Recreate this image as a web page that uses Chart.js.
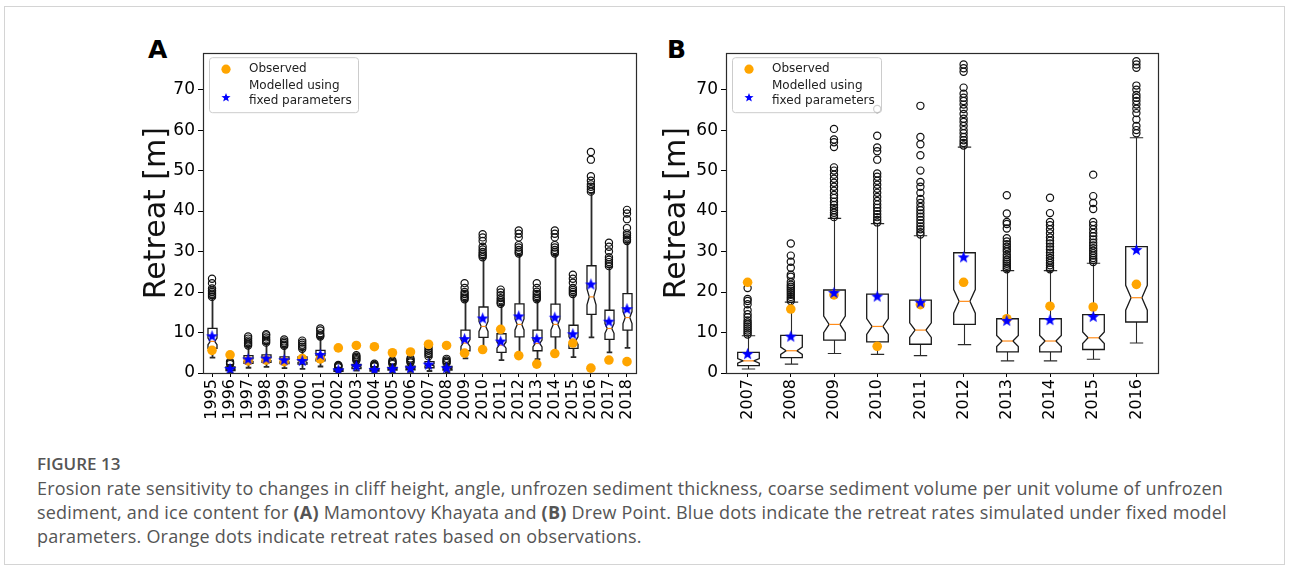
<!DOCTYPE html>
<html><head><meta charset="utf-8">
<script src="https://cdn.jsdelivr.net/npm/chart.js@4.4.1/dist/chart.umd.min.js"></script>
<style>
html,body{margin:0;padding:0;background:#fff;}
body{width:1290px;height:569px;position:relative;overflow:hidden;font-family:"DejaVu Sans",sans-serif;}
#frame{position:absolute;left:4px;top:6px;width:1281px;height:559px;border:1px solid #d4d4d4;box-sizing:border-box;}
.wrap{position:absolute;}
#wa{left:125px;top:40px;width:525px;height:392px;}
#wb{left:645px;top:40px;width:530px;height:392px;}
.plabel{position:absolute;font-weight:bold;font-size:25px;line-height:25px;font-family:"DejaVu Sans";color:#000;}
#cap{position:absolute;left:37px;top:452px;font-family:"Open Sans";color:#555;font-size:18px;line-height:24px;letter-spacing:0.2px;white-space:nowrap;}
#cap .fig{font-weight:600;font-size:17px;letter-spacing:0;}
#cap b{font-weight:700;}
</style></head>
<body>
<div id="frame"></div>
<div class="plabel" style="left:148px;top:37px;">A</div>
<div class="plabel" style="left:667px;top:37px;">B</div>
<div class="wrap" id="wa"><canvas id="ca"></canvas></div>
<div class="wrap" id="wb"><canvas id="cb"></canvas></div>
<div id="cap"><div class="fig">FIGURE 13</div>
<div>Erosion rate sensitivity to changes in cliff height, angle, unfrozen sediment thickness, coarse sediment volume per unit volume of unfrozen</div>
<div>sediment, and ice content for <b>(A)</b> Mamontovy Khayata and <b>(B)</b> Drew Point. Blue dots indicate the retreat rates simulated under fixed model</div>
<div>parameters. Orange dots indicate retreat rates based on observations.</div></div>
<script>
// ---------- Data: panel A (Mamontovy Khayata) ----------
const yearsA = ['1995','1996','1997','1998','1999','2000','2001','2002','2003','2004','2005','2006','2007','2008','2009','2010','2011','2012','2013','2014','2015','2016','2017','2018'];
const observedA = [5.6,4.5,3.0,3.2,2.8,3.6,3.5,6.2,6.8,6.5,5.0,5.2,7.1,6.8,4.9,5.8,10.8,4.3,2.2,4.8,7.4,1.2,3.2,2.8];
const modelledA = [9.2,1.1,3.5,3.7,3.3,3.1,4.6,0.8,1.8,0.9,1.1,1.3,2.2,1.3,8.5,13.6,7.9,14.1,8.5,13.8,9.7,22.0,12.8,15.9];
const whiskerLowA = [3.8,0.1,1.3,1.5,1.2,1.0,1.6,0.1,0.6,0.1,0.2,0.3,0.5,0.2,3.6,5.4,3.2,4.0,3.4,4.6,3.9,8.8,5.1,6.2];
const q1A = [6.1,0.6,2.4,2.6,2.3,2.2,3.0,0.4,1.1,0.5,0.7,0.8,1.3,0.7,5.5,8.8,5.1,8.9,5.5,8.9,6.1,14.5,8.3,10.6];
const medianA = [7.8,1.0,3.2,3.4,3.0,2.9,3.9,0.7,1.6,0.8,1.0,1.2,2.0,1.1,7.4,11.5,6.9,12.0,7.3,12.0,8.0,18.8,11.0,13.7];
const q3A = [11.0,1.5,4.3,4.5,4.0,4.0,5.6,1.0,2.1,1.1,1.4,1.7,2.8,1.6,10.6,16.3,9.7,17.1,10.6,17.0,11.8,26.5,15.5,19.6];
const whiskerHighA = [18.5,2.0,6.5,7.2,6.4,5.8,8.8,1.3,2.9,1.5,2.0,2.4,3.9,2.3,17.9,28.4,16.8,29.2,17.9,29.2,19.2,44.5,26.1,32.3];
const outliersA = [
  [18.8,19.2,19.6,20.0,20.4,20.9,22.2,23.3],
  [2.2,2.5,2.8],
  [6.8,7.2,7.6,8.0,8.5,9.0],
  [7.5,7.9,8.3,8.8,9.3,9.6],
  [6.7,7.0,7.4,7.8,8.3],
  [6.0,6.5,7.0,7.5,8.0],
  [9.0,9.3,9.8,10.5,11.0],
  [1.4,1.6,1.8,2.0],
  [3.1,3.4,3.7,4.0,4.4],
  [1.6,1.8,2.0,2.3],
  [2.2,2.5,2.8,3.1],
  [2.6,2.9,3.2,3.6],
  [4.1,4.6,5.0,5.5,6.0,6.6],
  [2.5,2.8,3.1,3.5],
  [18.2,18.6,19.0,19.5,20.0,21.0,22.2],
  [28.6,29.0,29.4,29.9,30.5,31.2,32.6,33.5,34.3],
  [17.1,17.5,18.0,18.5,19.2,19.9,20.6],
  [29.5,29.9,30.4,31.0,31.6,33.5,34.4,35.2],
  [18.2,18.6,19.0,19.5,20.1,21.0,22.2],
  [29.5,29.9,30.4,31.0,31.6,33.5,34.4,35.2],
  [19.5,20.0,20.5,21.0,22.3,23.3,24.3],
  [44.8,45.4,46.0,46.6,47.5,48.6,52.7,54.6],
  [26.4,26.9,27.4,28.0,28.6,30.0,31.2,32.2],
  [32.6,33.0,33.5,34.0,34.5,35.8,38.0,39.4,40.3]
];

// ---------- Data: panel B (Drew Point) ----------
const yearsB = ['2007','2008','2009','2010','2011','2012','2013','2014','2015','2016'];
const observedB = [22.4,15.8,19.3,6.6,16.9,22.4,13.4,16.5,16.3,21.9];
const modelledB = [4.8,9.1,19.9,19.0,17.5,28.7,13.0,13.2,14.0,30.5];
const whiskerLowB = [1.0,2.2,4.8,4.6,4.3,7.0,3.0,3.0,3.4,7.4];
const q1B = [1.8,3.8,8.1,7.7,7.1,12.0,5.2,5.2,5.8,12.6];
const medianB = [3.0,5.5,12.0,11.5,10.6,17.7,7.9,7.9,8.7,18.6];
const q3B = [5.1,9.3,20.5,19.5,18.0,29.7,13.4,13.4,14.4,31.2];
const whiskerHighB = [9.2,17.5,38.2,36.9,33.9,55.8,25.3,25.3,27.1,58.1];
const outliersB = [
  [9.5,10.0,10.5,11.0,11.5,12.0,12.5,13.0,13.8,14.5,15.5,17.0,17.8,18.3,21.0],
  [17.8,18.3,18.8,19.3,19.8,20.3,20.8,21.3,21.8,22.5,23.8,24.3,26.0,27.5,29.0,32.0],
  [38.5,39.0,39.6,40.2,40.8,41.5,42.3,43.2,44.0,45.0,46.0,47.0,48.0,49.0,50.0,50.8,55.8,57.0,57.7,60.3],
  [37.2,37.8,38.5,39.2,40.0,40.8,41.6,42.5,43.5,44.5,45.5,46.5,47.5,48.5,49.3,52.7,54.8,55.7,58.6,65.2],
  [34.2,34.8,35.5,36.2,37.0,37.8,38.6,39.4,40.2,41.0,42.0,43.0,44.5,46.0,47.2,50.0,53.8,56.5,58.3,66.0],
  [56.2,56.8,57.5,58.3,59.2,60.0,61.0,62.0,62.8,64.0,65.2,66.3,67.2,68.0,69.0,70.5,74.4,75.3,76.2],
  [25.6,26.0,26.5,27.0,27.5,28.0,28.6,29.2,30.0,30.6,31.2,31.8,32.5,33.3,35.7,36.8,37.3,39.4,43.9],
  [25.6,26.0,26.6,27.2,27.8,28.4,29.0,29.7,30.5,31.2,32.0,32.7,33.5,34.5,35.5,36.5,37.3,39.5,43.3],
  [27.4,27.9,28.4,29.0,29.6,30.2,30.8,31.5,32.2,33.0,33.8,34.6,35.5,36.5,37.3,40.5,42.0,43.7,49.0],
  [59.2,60.0,61.0,62.6,64.2,65.3,66.3,67.2,68.0,68.7,70.0,71.0,75.4,76.2,77.0]
];

// ---------- Shared tick labels / legend texts ----------
const yTicks = [0,10,20,30,40,50,60,70];
const yTitle = 'Retreat [m]';
const legendTexts = ['Observed','Modelled using','fixed parameters'];
const sampleSize = 90; // samples per year (used for notch width)

function makeStar(r, color){
  const s = Math.ceil(2*r+2);
  const c = document.createElement('canvas'); c.width = s; c.height = s;
  const g = c.getContext('2d'); g.fillStyle = color; g.beginPath();
  for(let k=0;k<10;k++){
    const rr = (k%2)? r*0.42 : r;
    const a = -Math.PI/2 + k*Math.PI/5;
    const px = s/2 + rr*Math.cos(a), py = s/2 + 0.6 + rr*Math.sin(a);
    if(k) g.lineTo(px,py); else g.moveTo(px,py);
  }
  g.closePath(); g.fill();
  return c;
}
const starBig = makeStar(6.3,'#0000ff');

function drawStarPath(ctx, cx, cy, r){
  ctx.beginPath();
  for(let k=0;k<10;k++){
    const rr = (k%2)? r*0.42 : r;
    const a = -Math.PI/2 + k*Math.PI/5;
    const px = cx + rr*Math.cos(a), py = cy + rr*Math.sin(a);
    if(k) ctx.lineTo(px,py); else ctx.moveTo(px,py);
  }
  ctx.closePath();
}

function makeBoxPlugin(st){
  return {
    id:'boxes',
    beforeDatasetsDraw(chart){
      const {ctx, scales:{x,y}} = chart;
      const step = x.getPixelForValue(1) - x.getPixelForValue(0);
      const hw = step*0.25;
      ctx.save();
      for(let i=0;i<st.q1.length;i++){
        const xc = Math.round(x.getPixelForValue(i)) + 0.5;
        const xl = xc - hw, xr = xc + hw;
        const nl = xc - hw*0.5, nr = xc + hw*0.5;
        const iqr = st.q3[i]-st.q1[i];
        const ci = 1.57*iqr/Math.sqrt(sampleSize);
        const py = v => y.getPixelForValue(v);
        const yq1 = py(st.q1[i]), yq3 = py(st.q3[i]), ym = py(st.med[i]);
        const ylo = py(st.med[i]-ci), yhi = py(st.med[i]+ci);
        // whiskers
        ctx.strokeStyle = '#2a2a2a'; ctx.lineWidth = st.wl;
        ctx.beginPath();
        ctx.moveTo(xc, yq1); ctx.lineTo(xc, py(st.lo[i]));
        ctx.moveTo(xc, yq3); ctx.lineTo(xc, py(st.hi[i]));
        const ch = hw*0.62;
        ctx.moveTo(xc-ch, py(st.lo[i])); ctx.lineTo(xc+ch, py(st.lo[i]));
        ctx.moveTo(xc-ch, py(st.hi[i])); ctx.lineTo(xc+ch, py(st.hi[i]));
        ctx.stroke();
        // notched box
        ctx.strokeStyle = '#1a1a1a'; ctx.lineWidth = 1.3;
        ctx.beginPath();
        ctx.moveTo(xl, yq1); ctx.lineTo(xr, yq1); ctx.lineTo(xr, ylo); ctx.lineTo(nr, ym);
        ctx.lineTo(xr, yhi); ctx.lineTo(xr, yq3); ctx.lineTo(xl, yq3); ctx.lineTo(xl, yhi);
        ctx.lineTo(nl, ym); ctx.lineTo(xl, ylo); ctx.closePath();
        ctx.stroke();
        // median
        ctx.strokeStyle = '#ff8c1a'; ctx.lineWidth = 1.2;
        ctx.beginPath(); ctx.moveTo(nl, ym); ctx.lineTo(nr, ym); ctx.stroke();
      }
      ctx.restore();
    },
    afterDraw(chart){
      const {ctx, chartArea:a} = chart;
      ctx.save();
      // frame
      ctx.strokeStyle = '#2b2b2b'; ctx.lineWidth = 1.2;
      ctx.strokeRect(Math.round(a.left)+0.5, Math.round(a.top)+0.5, Math.round(a.right-a.left), Math.round(a.bottom-a.top));
      // legend
      const lx = a.left + 6, ly = a.top + 4, lw = 149, lh = 55;
      ctx.fillStyle = 'rgba(255,255,255,0.8)';
      ctx.strokeStyle = '#cccccc'; ctx.lineWidth = 1;
      ctx.beginPath();
      if (ctx.roundRect) ctx.roundRect(lx+0.5, ly+0.5, lw, lh, 3); else ctx.rect(lx+0.5, ly+0.5, lw, lh);
      ctx.fill(); ctx.stroke();
      ctx.fillStyle = '#ffa500';
      ctx.beginPath(); ctx.arc(lx+17, ly+12, 4.6, 0, Math.PI*2); ctx.fill();
      ctx.fillStyle = '#0000ff';
      drawStarPath(ctx, lx+17, ly+40.5, 4.8); ctx.fill();
      ctx.fillStyle = '#222';
      ctx.font = '12px "DejaVu Sans"';
      ctx.textBaseline = 'middle'; ctx.textAlign = 'left';
      ctx.fillText(legendTexts[0], lx+40, ly+12);
      ctx.fillText(legendTexts[1], lx+40, ly+29);
      ctx.fillText(legendTexts[2], lx+40, ly+44);
      ctx.restore();
    }
  };
}

function build(canvasId, years, obs, mod, lo, q1, med, q3, hi, outs, yW, padR, wl){
  const outPts = [];
  outs.forEach((arr,i)=>arr.forEach(v=>outPts.push({x:years[i], y:v})));
  const obsPts = obs.map((v,i)=>({x:years[i], y:v}));
  const modPts = mod.map((v,i)=>({x:years[i], y:v}));
  const st = {lo, q1, med, q3, hi, wl};
  return new Chart(document.getElementById(canvasId), {
    type:'scatter',
    data:{
      labels: years,
      datasets:[
        {label:'Modelled using fixed parameters', data:modPts, pointStyle:starBig, pointRadius:6, order:1},
        {label:'Observed', data:obsPts, pointStyle:'circle', pointRadius:4.8, backgroundColor:'#ffa500', borderWidth:0, order:2},
        {label:'outliers', data:outPts, pointStyle:'circle', pointRadius:3.6, backgroundColor:'rgba(0,0,0,0)', borderColor:'#111', borderWidth:1.2, order:3}
      ]
    },
    options:{
      responsive:true, maintainAspectRatio:false, animation:false, events:[],
      layout:{padding:{top:12, right:padR, left:0, bottom:0}},
      plugins:{legend:{display:false}, tooltip:{enabled:false}},
      scales:{
        x:{type:'category', labels:years, offset:true,
           grid:{display:true, drawOnChartArea:false, drawTicks:true, tickLength:4, color:'#000', lineWidth:1},
           border:{display:false},
           ticks:{autoSkip:false, minRotation:90, maxRotation:90, padding:2, color:'#000', font:{family:'DejaVu Sans', size:16}},
           afterFit:s=>{s.height = 59;}
        },
        y:{type:'linear', min:0, max:79,
           grid:{display:true, drawOnChartArea:false, drawTicks:true, tickLength:5, color:'#000', lineWidth:1},
           border:{display:false},
           ticks:{includeBounds:false, padding:3, color:'#000', font:{family:'DejaVu Sans', size:17}},
           afterBuildTicks:s=>{ s.ticks = yTicks.map(v=>({value:v})); },
           title:{display:true, text:yTitle, color:'#111', padding:{top:14, bottom:0}, font:{family:'DejaVu Sans', size:30}},
           afterFit:s=>{s.width = yW;}
        }
      }
    },
    plugins:[makeBoxPlugin(st)]
  });
}

build('ca', yearsA, observedA, modelledA, whiskerLowA, q1A, medianA, q3A, whiskerHighA, outliersA, 78, 14, 1.8);
build('cb', yearsB, observedB, modelledB, whiskerLowB, q1B, medianB, q3B, whiskerHighB, outliersB, 81, 17, 1.1);
</script>
</body></html>
